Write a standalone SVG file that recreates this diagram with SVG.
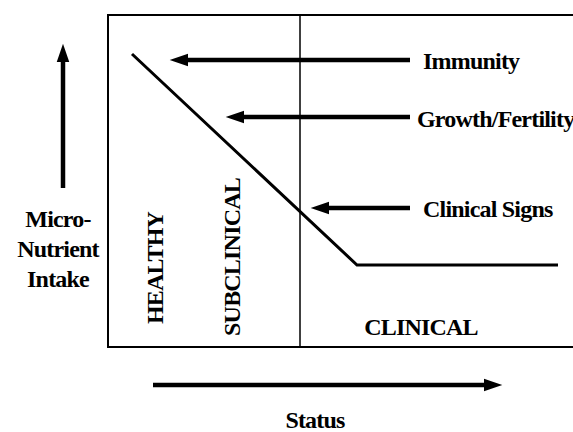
<svg xmlns="http://www.w3.org/2000/svg" width="573" height="432" viewBox="0 0 573 432">
<style>
text{font-family:"Liberation Serif","Times New Roman",serif;font-weight:bold;fill:#000;font-size:24px;letter-spacing:-0.8px}
.arr{stroke:#000;stroke-width:4.5;fill:none}
</style>
<defs>
<marker id="ah" markerWidth="10" markerHeight="10" refX="0" refY="0" viewBox="-1 -5 12 10" markerUnits="userSpaceOnUse" orient="auto" overflow="visible">
<path d="M0,-7.5 L22,0 L0,7.5 Z" fill="#000"/>
</marker>
</defs>
<rect width="573" height="432" fill="#fff"/>
<g id="frame">
<path d="M573,15 H108 V347 H573" fill="none" stroke="#000" stroke-width="2"/>
<line x1="300" y1="15" x2="300" y2="347" stroke="#000" stroke-width="1.5"/>
</g>
<g id="curve">
<polyline points="132,54 357,265 558,265" fill="none" stroke="#000" stroke-width="3"/>
</g>
<g id="connectors">
<line class="arr" x1="410" y1="60" x2="188" y2="60" marker-end="url(#ah)"/>
<line class="arr" x1="410" y1="117" x2="244" y2="117" marker-end="url(#ah)"/>
<line class="arr" x1="410" y1="208" x2="329" y2="208" marker-end="url(#ah)"/>
<line class="arr" x1="63" y1="188" x2="63" y2="62" marker-end="url(#ah)"/>
<line class="arr" x1="153" y1="385" x2="484" y2="385" marker-end="url(#ah)"/>
</g>
<g id="immunity"><text x="423" y="69">Immunity</text></g>
<g id="growth"><text x="417" y="127">Growth/Fertility</text></g>
<g id="clinical-signs"><text x="423" y="217">Clinical Signs</text></g>
<g id="ylabel">
<text x="58" y="227" text-anchor="middle">Micro-</text>
<text x="58" y="257" text-anchor="middle">Nutrient</text>
<text x="58" y="287" text-anchor="middle">Intake</text>
</g>
<g id="healthy"><text transform="translate(163,268) rotate(-90)" text-anchor="middle">HEALTHY</text></g>
<g id="subclinical"><text transform="translate(240,257) rotate(-90)" text-anchor="middle">SUBCLINICAL</text></g>
<g id="clinical"><text x="421" y="335" text-anchor="middle">CLINICAL</text></g>
<g id="status"><text x="315" y="428" text-anchor="middle">Status</text></g>
</svg>
